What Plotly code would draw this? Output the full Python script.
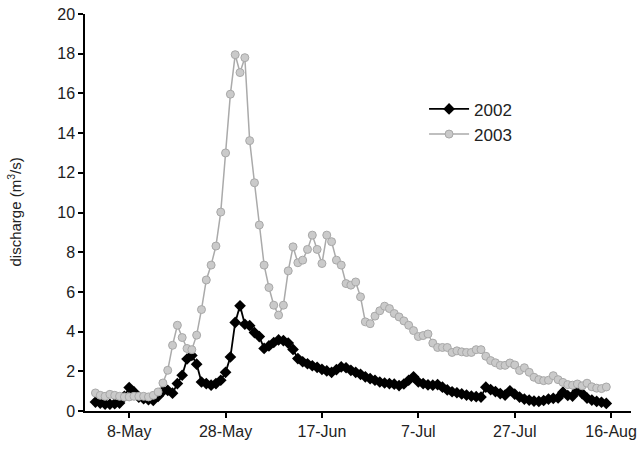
import pandas as pd
import plotly.graph_objects as go

start_date = "2002-05-01"
n_days = 107

q2002 = [0.45, 0.40, 0.35, 0.34, 0.37, 0.40, 0.74, 1.18, 0.96, 0.70,
         0.62, 0.57, 0.54, 0.74, 1.00, 1.04, 0.90, 1.38, 1.80, 2.62,
         2.80, 2.36, 1.46, 1.38, 1.30, 1.38, 1.55, 1.95, 2.72, 4.46,
         5.30, 4.37, 4.30, 3.95, 3.75, 3.15, 3.28, 3.45, 3.58, 3.55,
         3.42, 3.10, 2.64, 2.48, 2.38, 2.28, 2.20, 2.10, 2.02, 1.95,
         2.08, 2.22, 2.18, 2.05, 1.95, 1.85, 1.72, 1.63, 1.55, 1.46,
         1.41, 1.38, 1.35, 1.28, 1.36, 1.55, 1.72, 1.46, 1.38, 1.32,
         1.30, 1.33, 1.20, 1.06, 0.97, 0.92, 0.86, 0.80, 0.75, 0.72,
         0.70, 1.20, 1.08, 0.98, 0.88, 0.80, 1.02, 0.85, 0.70, 0.60,
         0.55, 0.50, 0.48, 0.53, 0.60, 0.64, 0.66, 0.95, 0.78, 0.75,
         1.05, 0.88, 0.65, 0.55, 0.48, 0.44, 0.38]

q2003 = [0.91, 0.79, 0.74, 0.84, 0.79, 0.74, 0.71, 0.71, 0.74, 0.74,
         0.74, 0.71, 0.79, 0.96, 1.41, 2.05, 3.31, 4.32, 3.70, 3.15,
         3.09, 3.82, 5.11, 6.60, 7.35, 8.31, 10.02, 13.00, 15.96, 17.95,
         17.05, 17.80, 13.62, 11.50, 9.37, 7.35, 6.22, 5.33, 4.83, 5.33,
         7.06, 8.27, 7.47, 7.60, 8.14, 8.86, 8.14, 7.43, 8.86, 8.53,
         7.60, 7.35, 6.42, 6.34, 6.50, 5.75, 4.49, 4.40, 4.78, 5.05,
         5.28, 5.16, 4.91, 4.74, 4.54, 4.32, 4.05, 3.75, 3.80, 3.88,
         3.42, 3.20, 3.20, 3.20, 2.95, 3.03, 2.98, 2.95, 2.95, 3.09,
         3.09, 2.76, 2.54, 2.43, 2.30, 2.30, 2.42, 2.32, 2.04, 2.18,
         1.95, 1.70, 1.58, 1.53, 1.55, 1.78, 1.58, 1.44, 1.33, 1.30,
         1.36, 1.27, 1.40, 1.22, 1.15, 1.13, 1.21]

tick_dates = ["2002-05-08", "2002-05-28", "2002-06-17", "2002-07-07", "2002-07-27", "2002-08-16"]
tick_labels = ["8-May", "28-May", "17-Jun", "7-Jul", "27-Jul", "16-Aug"]
y_ticks = [0, 2, 4, 6, 8, 10, 12, 14, 16, 18, 20]

dates = pd.date_range(start_date, periods=n_days, freq="D")

fig = go.Figure()
fig.add_trace(go.Scatter(
    x=dates, y=q2002, name="2002", mode="lines+markers",
    line=dict(color="#000000", width=1.8),
    marker=dict(symbol="diamond", size=9, color="#000000"),
))
fig.add_trace(go.Scatter(
    x=dates, y=q2003, name="2003", mode="lines+markers",
    line=dict(color="#aaaaaa", width=1.5),
    marker=dict(symbol="circle", size=8, color="#cacaca",
                line=dict(color="#a8a8a8", width=1)),
))

font_family = "Liberation Sans, Arial, sans-serif"
fig.update_layout(
    width=643, height=454,
    margin=dict(l=85, r=12, t=14, b=43),
    paper_bgcolor="white", plot_bgcolor="white",
    font=dict(family=font_family, size=16, color="#222222"),
    showlegend=True,
    legend=dict(x=0.621, y=0.805, xanchor="left", yanchor="top",
                bgcolor="rgba(0,0,0,0)", font=dict(size=17),
                tracegroupgap=0, itemwidth=40),
    xaxis=dict(
        type="date", automargin=False,
        range=["2002-04-28 20:00", "2002-08-20 03:00"],
        tickvals=pd.to_datetime(tick_dates), ticktext=tick_labels,
        showgrid=False, zeroline=False,
        showline=True, linecolor="#000000", linewidth=1.5,
        ticks="outside", ticklen=5, tickcolor="#000000", tickwidth=1.5,
        tickfont=dict(size=16),
    ),
    yaxis=dict(
        range=[0, 20], tickvals=y_ticks, automargin=False,
        showgrid=False, zeroline=False,
        showline=True, linecolor="#000000", linewidth=1.5,
        ticks="outside", ticklen=5, tickcolor="#000000", tickwidth=1.5,
        tickfont=dict(size=16),
    ),
    annotations=[dict(
        text="discharge (m<sup>3</sup>/s)", xref="paper", yref="paper",
        x=-0.130, y=0.5, xanchor="center", yanchor="middle",
        textangle=-90, showarrow=False, font=dict(size=15),
    )],
)

fig.write_html("out.html", config={"displayModeBar": False},
               post_script="document.body.style.margin='0';")
